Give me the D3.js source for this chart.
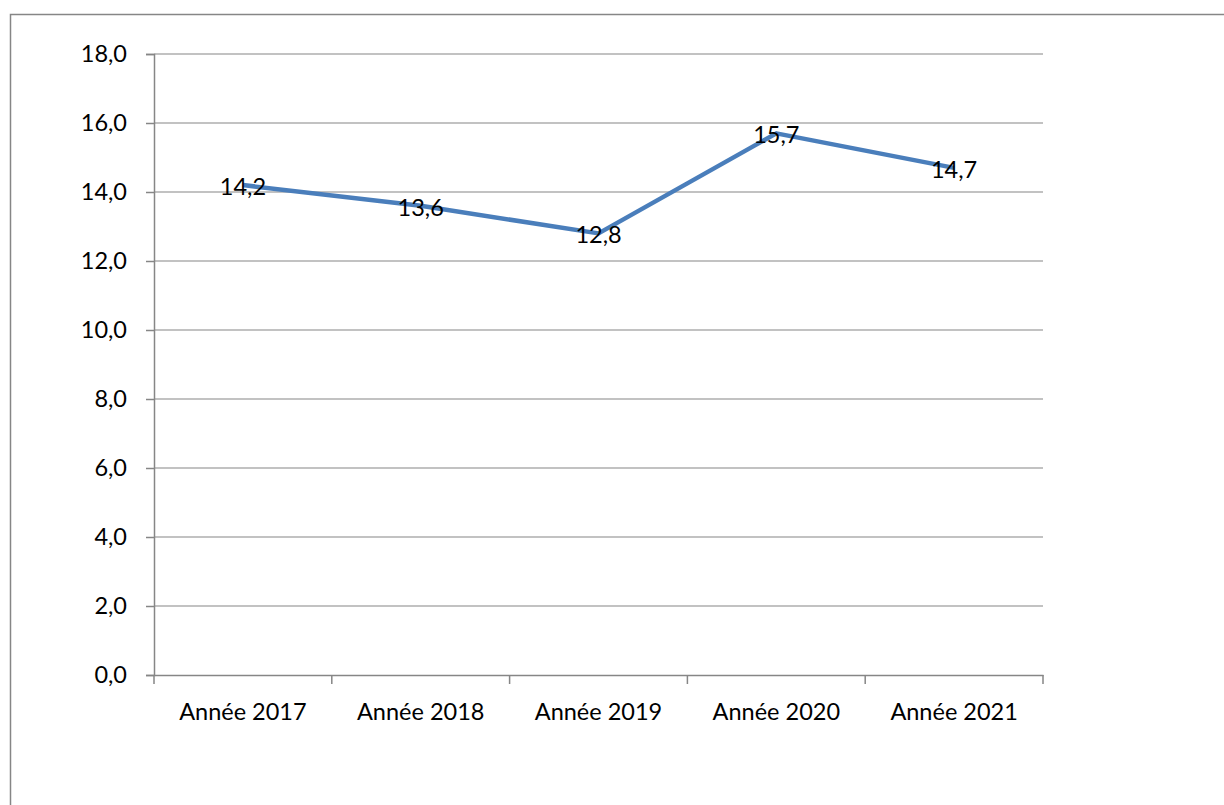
<!DOCTYPE html>
<html>
<head>
<meta charset="utf-8">
<script src="https://cdn.jsdelivr.net/npm/d3@7"></script>
<style>
  body { margin: 0; background: #fff; }
  text { font-family: Lato, "Open Sans", sans-serif; fill: #000; }
</style>
</head>
<body>
<svg id="chart" width="1224" height="805"></svg>
<script>
const categories = ["Année 2017", "Année 2018", "Année 2019", "Année 2020", "Année 2021"];
const values = [14.2, 13.6, 12.8, 15.7, 14.7];
const yTicks = [0, 2, 4, 6, 8, 10, 12, 14, 16, 18];

const fmt = d => d.toFixed(1).replace(".", ",");
const fontSize = "23.5px";

const svg = d3.select("#chart");

// outer frame, runs past the right and bottom edges
svg.append("rect")
  .attr("x", 10.5).attr("y", 14.5)
  .attr("width", 1240).attr("height", 820)
  .attr("fill", "none").attr("stroke", "#868686").attr("stroke-width", 1.5);

const margin = {left: 154, top: 54, right: 1043, bottom: 675};

const x = d3.scaleBand().domain(categories).range([margin.left, margin.right]);
const y = d3.scaleLinear().domain([0, 18]).range([margin.bottom, margin.top]);

// gridlines
svg.append("g")
  .selectAll("line")
  .data(yTicks.filter(d => d > 0))
  .enter().append("line")
  .attr("x1", margin.left).attr("x2", margin.right)
  .attr("y1", d => y(d)).attr("y2", d => y(d))
  .attr("stroke", "#868686").attr("stroke-width", 1.2);

// y axis
const yAxis = svg.append("g")
  .attr("transform", "translate(" + margin.left + ",0)")
  .call(d3.axisLeft(y).tickValues(yTicks).tickFormat(fmt).tickSize(8).tickPadding(19));
yAxis.selectAll("path, line").attr("stroke", "#868686").attr("stroke-width", 1.5);
yAxis.selectAll("text").style("font-size", fontSize).attr("fill", "#000");

// x axis
const xAxis = svg.append("g")
  .attr("transform", "translate(0," + margin.bottom + ")")
  .call(d3.axisBottom(x).tickSize(0).tickPadding(28));
xAxis.select("path").attr("stroke", "#868686").attr("stroke-width", 1.5);
xAxis.selectAll("text").style("font-size", fontSize).attr("fill", "#000");

// x tick marks at band boundaries
const bounds = categories.map(c => x(c)).concat([margin.right]);
svg.append("g")
  .selectAll("line")
  .data(bounds)
  .enter().append("line")
  .attr("x1", d => d).attr("x2", d => d)
  .attr("y1", margin.bottom).attr("y2", margin.bottom + 9)
  .attr("stroke", "#868686").attr("stroke-width", 1.5);

// the line
const cx = c => x(c) + x.bandwidth() / 2;
const line = d3.line()
  .x((d, i) => cx(categories[i]))
  .y(d => y(d));

svg.append("path")
  .datum(values)
  .attr("d", line)
  .attr("fill", "none")
  .attr("stroke", "#4a7ebb")
  .attr("stroke-width", 4.5)
  .attr("stroke-linejoin", "round");

// data labels
svg.append("g")
  .selectAll("text")
  .data(values)
  .enter().append("text")
  .attr("x", (d, i) => cx(categories[i]))
  .attr("y", d => y(d) + 10)
  .attr("text-anchor", "middle")
  .style("font-size", fontSize)
  .text(fmt);
</script>
</body>
</html>
